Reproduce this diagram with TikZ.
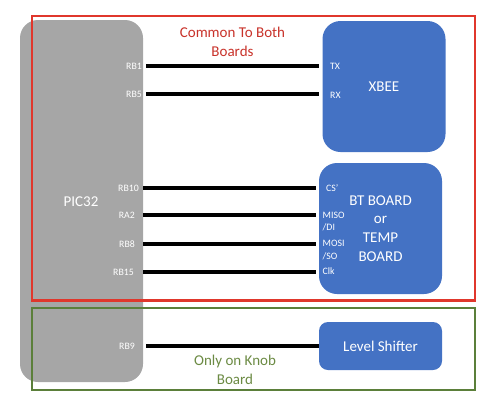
\documentclass[tikz,border=0pt]{standalone}
\usepackage{fontspec}
\setmainfont{Carlito}
\usepackage{tikz}
\usetikzlibrary{positioning}
\definecolor{chipgray}{HTML}{A6A6A6}
\definecolor{boardblue}{HTML}{4472C4}
\definecolor{framered}{HTML}{E0372C}
\definecolor{labelred}{HTML}{C8322A}
\definecolor{framegreen}{HTML}{5B7F3A}
\definecolor{labelgreen}{HTML}{6B8A43}

\begin{document}
\begin{tikzpicture}[x=1pt,y=-1pt,
    chip/.style={fill=chipgray,rounded corners=18pt,minimum width=123pt,minimum height=362pt,inner sep=0pt},
    board/.style={fill=boardblue,rounded corners=18pt,minimum width=123pt,inner sep=0pt,text=white,align=center,
      font=\fontsize{15}{18.7}\selectfont},
    pinl/.style={anchor=east,text=white,inner sep=0pt,font=\fontsize{9.8}{12.5}\selectfont},
    pinr/.style={anchor=west,text=white,inner sep=0pt,align=left,font=\fontsize{9.8}{12.5}\selectfont},
    wire/.style={line width=3.3pt},
    frame/.style={line width=2.6pt}]
            \useasboundingbox (0,0) rectangle (494,402);

            \node[chip] (pic) at (81.5,201) {};
            \node[text=white,font=\fontsize{15}{18}\selectfont] (picname) at (81,202) {PIC32};

            \draw[frame,framered] (32,16) rectangle (475,300.5);
            \draw[frame,framegreen] (32,308) rectangle (475,390);
            \node[text=labelred,align=center,font=\fontsize{15}{19}\selectfont] (common) at (232.5,41.5) {Common To Both\\Boards};
            \node[text=labelgreen,align=center,font=\fontsize{15}{19}\selectfont] (knob) at (235,369.5) {Only on Knob\\Board};

            \node[board,minimum height=131pt] (xbee) at (384,86.5) {XBEE};
            \node[board,minimum height=131pt] (bt) at (380.5,228.5) {BT BOARD\\or\\TEMP\\BOARD};
            \node[board,minimum height=48pt,rounded corners=9pt] (shifter) at (380.5,346) {Level Shifter};

            \node[pinl] (rbone) at (142,66) {RB1};
            \node[pinl] (rbfive) at (142,94) {RB5};
            \node[pinl] (rbten) at (139,188) {RB10};
            \node[pinl] (ratwo) at (135,215) {RA2};
            \node[pinl] (rbeight) at (135,244) {RB8};
            \node[pinl] (rbfifteen) at (134,272) {RB15};
            \node[pinl] (rbnine) at (135,346) {RB9};

            \node[pinr] (tx) at (330,66) {TX};
            \node[pinr] (rx) at (330,95) {RX};
            \node[pinr] (cs) at (326,188) {CS'};
            \node[pinr] (miso) at (322.5,221.5) {MISO\\/DI};
            \node[pinr] (mosi) at (322.5,250) {MOSI\\/SO};
            \node[pinr] (clk) at (322.5,271) {Clk};

            \draw[wire,shorten <=3pt,shorten >=3.5pt] (pic.east |- rbone) -- (xbee.west |- rbone);
            \draw[wire,shorten <=3pt,shorten >=3.5pt] (pic.east |- rbfive) -- (xbee.west |- rbfive);
            \draw[wire,shorten >=3pt] (pic.east |- rbten) -- (bt.west |- rbten);
            \draw[wire,shorten >=3pt] (pic.east |- ratwo) -- (bt.west |- ratwo);
            \draw[wire,shorten >=3pt] (pic.east |- rbeight) -- (bt.west |- rbeight);
            \draw[wire,shorten >=3pt] (pic.east |- rbfifteen) -- (bt.west |- rbfifteen);
            \draw[wire,shorten <=3pt] (pic.east |- rbnine) -- (shifter.west |- rbnine);
        \end{tikzpicture}
\end{document}
